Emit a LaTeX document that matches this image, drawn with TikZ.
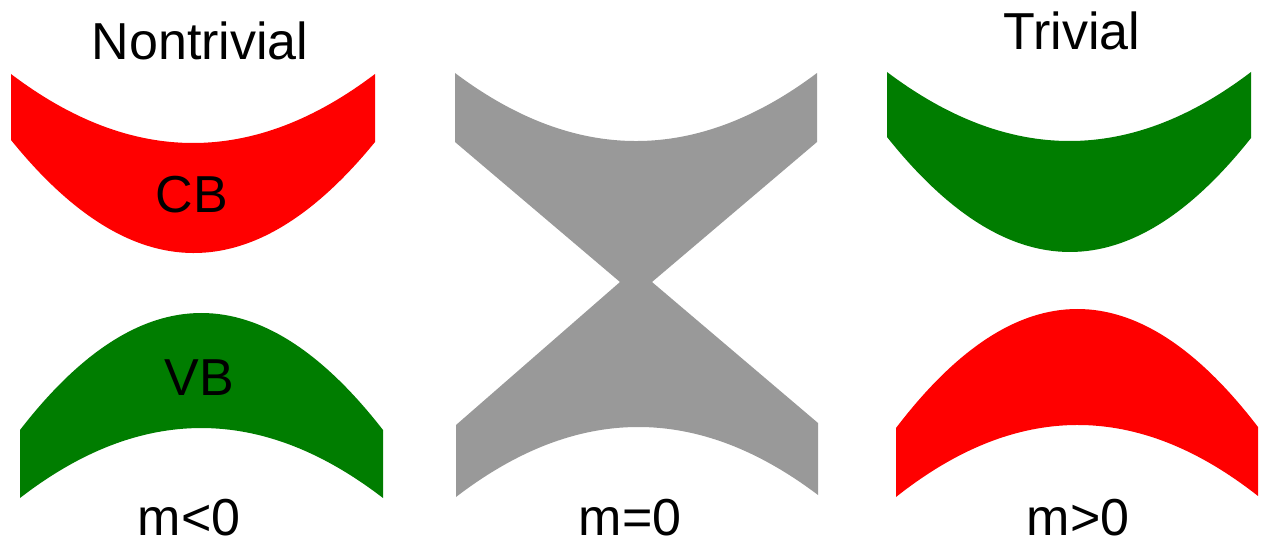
\documentclass[tikz,border=0pt]{standalone}
\usepackage{fontspec}
\setmainfont{Liberation Sans}
\definecolor{bandred}{HTML}{FF0000}
\definecolor{bandgreen}{HTML}{007D00}
\definecolor{bandgray}{HTML}{999999}
\begin{document}
\begin{tikzpicture}[x=1pt,y=-1pt,
  lbl/.style={inner sep=0pt,font=\fontsize{52}{60}\selectfont},
  redband/.style={fill=bandred,draw=none},
  greenband/.style={fill=bandgreen,draw=none},
  grayband/.style={fill=bandgray,draw=none}]
\useasboundingbox (0,0) rectangle (1262,548);
% Nontrivial: CB (red)
\path[redband] (11,74) .. controls (132.3,166) and (253.7,166) .. (375,74)
  -- (375,142) .. controls (253.7,290.7) and (132.3,290) .. (11,140) -- cycle;
% Nontrivial: VB (green)
\path[greenband] (20,430) .. controls (140.7,274) and (261.7,274) .. (383,430)
  -- (383,498) .. controls (261.7,404.7) and (140.7,404.7) .. (20,498) -- cycle;
% gapless (gray)
\path[grayband] (455,73) .. controls (575.7,163.7) and (696.3,163.7) .. (817,73)
  -- (817,142) -- (652,282) -- (818,423) -- (818,495)
  .. controls (697.3,403.7) and (576.7,404.3) .. (456,497)
  -- (456,425) -- (620,282) -- (455,142) -- cycle;
% Trivial: upper (green)
\path[greenband] (887,72) .. controls (1009,164) and (1130.3,164) .. (1251,72)
  -- (1251,138) .. controls (1130.3,290.3) and (1009,290) .. (887,137) -- cycle;
% Trivial: lower (red)
\path[redband] (896,428) .. controls (1016.7,269.7) and (1137.3,269.3) .. (1258,427)
  -- (1258,496) .. controls (1137.3,401) and (1016.7,401.3) .. (896,497) -- cycle;
% labels
\node[lbl] (nontriv) at (200,41) {Nontrivial};
\node[lbl] (triv) at (1072,31) {Trivial};
\node[lbl] (cb) at (192,195) {CB};
\node[lbl] (vb) at (199,378) {VB};
\node[lbl] (mneg) at (189,518) {m<0};
\node[lbl] (mzero) at (630,518) {m=0};
\node[lbl] (mpos) at (1078,518) {m>0};
\end{tikzpicture}
\end{document}
